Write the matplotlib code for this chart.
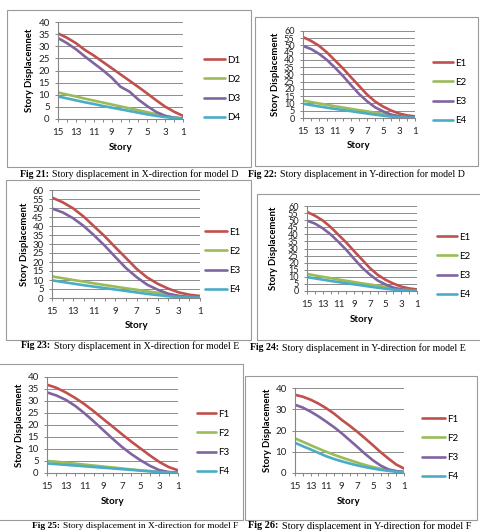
import matplotlib
matplotlib.use("Agg")
import matplotlib.pyplot as plt
from matplotlib.patches import Rectangle
from matplotlib.ticker import MultipleLocator

# story numbers (x axis runs 15 -> 1)
stories = list(range(15, 0, -1))

# Fig 21 - model D, X-direction
D1 = [35.3, 33.5, 31.3, 28.5, 26.2, 23.6, 21.0, 18.4, 15.8, 13.2, 10.5, 7.7, 5.1, 3.0, 1.3]
D2 = [10.9, 10.1, 9.3, 8.4, 7.6, 6.8, 6.0, 5.2, 4.4, 3.6, 2.8, 2.0, 1.2, 0.6, 0.3]
D3 = [33.4, 31.3, 28.8, 25.8, 23.0, 20.2, 17.1, 13.3, 11.3, 8.0, 5.3, 2.9, 1.3, 0.5, 0.2]
D4 = [9.3, 8.5, 7.7, 6.9, 6.2, 5.4, 4.7, 4.0, 3.3, 2.6, 1.9, 1.3, 0.8, 0.4, 0.2]

# Fig 22 / 23 / 24 - model E curves (same values in all three)
E1 = [55.8, 53.2, 49.8, 45.2, 39.7, 34.2, 28.1, 22.2, 16.2, 11.4, 7.9, 5.2, 3.1, 1.8, 1.1]
E2 = [12.0, 11.0, 10.0, 9.1, 8.1, 7.2, 6.3, 5.4, 4.6, 3.7, 2.9, 2.0, 1.2, 0.6, 0.3]
E3 = [49.7, 47.6, 44.3, 40.0, 34.7, 29.0, 22.7, 16.6, 11.6, 7.4, 4.6, 2.4, 1.1, 0.5, 0.3]
E4 = [9.8, 8.9, 8.0, 7.1, 6.3, 5.5, 4.7, 3.9, 3.1, 2.3, 1.6, 1.0, 0.5, 0.3, 0.2]

# Fig 25 - model F, X-direction
FX1 = [36.8, 35.5, 33.6, 31.3, 28.7, 25.7, 22.5, 19.4, 16.2, 13.1, 10.2, 7.3, 4.6, 2.5, 1.1]
FX2 = [5.0, 4.7, 4.3, 3.9, 3.5, 3.1, 2.7, 2.3, 1.9, 1.5, 1.1, 0.8, 0.5, 0.3, 0.2]
FX3 = [33.6, 32.3, 30.5, 28.0, 24.9, 21.5, 17.9, 14.3, 10.9, 7.9, 5.3, 3.0, 1.2, 0.4, 0.2]
FX4 = [4.0, 3.7, 3.4, 3.1, 2.8, 2.5, 2.2, 1.9, 1.6, 1.3, 1.0, 0.7, 0.4, 0.2, 0.1]

# Fig 26 - model F, Y-direction
FY1 = [36.8, 35.9, 34.5, 32.7, 30.5, 28.0, 25.0, 22.3, 19.4, 16.3, 13.1, 9.8, 6.8, 4.0, 2.1]
FY2 = [16.3, 14.7, 13.1, 11.5, 10.0, 8.6, 7.3, 6.1, 4.9, 3.8, 2.8, 2.0, 1.3, 0.8, 0.5]
FY3 = [32.1, 30.8, 28.9, 26.7, 24.2, 21.6, 18.7, 15.5, 12.3, 9.0, 6.0, 3.5, 1.7, 0.9, 0.5]
FY4 = [14.2, 12.6, 11.1, 9.5, 7.9, 6.6, 5.5, 4.5, 3.6, 2.8, 2.1, 1.5, 1.0, 0.6, 0.3]

colors = ["#c0504d", "#9bbb59", "#8064a2", "#4bacc6"]

W, H = 480, 532
fig = plt.figure(figsize=(W / 100, H / 100), dpi=100)
fig.patch.set_facecolor("white")

tick_font = ["Lato", "DejaVu Sans"]
cap_font = ["Liberation Serif", "DejaVu Serif"]


def px_rect(l, t, r, b):
    return [l / W, 1 - b / H, (r - l) / W, (b - t) / H]


def fx(x):
    return x / W


def fy(y):
    return 1 - y / H


panels = [
    dict(ax=(58, 22, 183, 119), series=[D1, D2, D3, D4], names=["D1", "D2", "D3", "D4"],
         ymax=40, ystep=5, ytick_size=7, ylabel="Story Displacemnet", ylab_x=30, xlab=(121, 147),
         leg=(204, 89, 2.2), frame=(7, 10, 251, 167),
         cap=(20, 174, 7.1, "Fig 21:", "Story displacement in X-direction for model D")),
    dict(ax=(303, 31, 415, 118), series=[E1, E2, E3, E4], names=["E1", "E2", "E3", "E4"],
         ymax=60, ystep=5, ytick_size=6.6, ylabel="Story Displacement", ylab_x=275, xlab=(359, 146),
         leg=(433, 92, 2.1), frame=(255, 17, 478, 166),
         cap=(248, 174, 7.1, "Fig 22:", "Story displacement in Y-direction for model D")),
    dict(ax=(52, 190, 200, 298), series=[E1, E2, E3, E4], names=["E1", "E2", "E3", "E4"],
         ymax=60, ystep=5, ytick_size=7, ylabel="Story Displacement", ylab_x=25, xlab=(137, 326),
         leg=(205, 261, 2.3), frame=(6, 180, 251, 340),
         cap=(21, 346, 7.1, "Fig 23:", "Story displacement in X-direction for model E")),
    dict(ax=(307, 206, 417, 291), series=[E1, E2, E3, E4], names=["E1", "E2", "E3", "E4"],
         ymax=60, ystep=5, ytick_size=6.6, ylabel="Story Displacement", ylab_x=273, xlab=(362, 320),
         leg=(437, 266, 2.1), frame=(257, 194, 484, 340),
         cap=(250, 348, 7.1, "Fig 24:", "Story displacement in Y-direction for model E")),
    dict(ax=(47, 377, 178, 473), series=[FX1, FX2, FX3, FX4], names=["F1", "F2", "F3", "F4"],
         ymax=40, ystep=5, ytick_size=7, ylabel="Story Displacement", ylab_x=20, xlab=(113, 502),
         leg=(197, 443, 2.0), frame=(-3, 364, 243, 520),
         cap=(32, 526, 6.75, "Fig 25:", "Story displacement in X-direction for model F")),
    dict(ax=(295, 388, 404, 473), series=[FY1, FY2, FY3, FY4], names=["F1", "F2", "F3", "F4"],
         ymax=40, ystep=10, ytick_size=7, ylabel="Story Displacement", ylab_x=267, xlab=(349, 501),
         leg=(422, 448, 2.4), frame=(245, 376, 477, 520),
         cap=(248, 526, 7.35, "Fig 26:", "Story displacement in Y-direction for model F")),
]

for p in panels:
    l, t, r, b = p["frame"]
    fig.add_artist(Rectangle((fx(l), fy(b)), (r - l) / W, (b - t) / H,
                             transform=fig.transFigure, fill=False,
                             edgecolor="#9a9a9a", lw=0.8))

    ax = fig.add_axes(px_rect(*p["ax"]))
    ax.patch.set_alpha(0)
    lines = []
    for vals, c, n in zip(p["series"], colors, p["names"]):
        ln, = ax.plot(stories, vals, color=c, lw=1.9, label=n, solid_capstyle="round")
        lines.append(ln)

    ax.set_xlim(15, 1)
    ax.set_ylim(0, p["ymax"])
    ax.set_xticks(list(range(15, 0, -2)))
    ax.xaxis.set_minor_locator(MultipleLocator(1))
    ax.yaxis.set_major_locator(MultipleLocator(p["ystep"]))
    ax.yaxis.grid(True, color="#8c8c8c", lw=0.7)
    ax.set_axisbelow(True)
    for s in ["top", "right"]:
        ax.spines[s].set_visible(False)
    for s in ["left", "bottom"]:
        ax.spines[s].set_color("#868686")
        ax.spines[s].set_linewidth(0.8)
    ax.tick_params(which="both", direction="out", length=2.5, width=0.7,
                   color="#868686", labelsize=7)
    ax.tick_params(axis="x", pad=4)
    ax.tick_params(axis="y", pad=3.5, labelsize=p["ytick_size"])
    for lab in ax.get_xticklabels() + ax.get_yticklabels():
        lab.set_family(tick_font)
        lab.set_color("#222222")

    ax.set_ylabel(p["ylabel"], fontsize=6.8, fontweight="bold", family=tick_font)
    ax.yaxis.set_label_coords(fx(p["ylab_x"]), 0.5 * (fy(p["ax"][1]) + fy(p["ax"][3])),
                              transform=fig.transFigure)
    ax.yaxis.label.set_va("center")
    ax.set_xlabel("Story", fontsize=7, fontweight="bold", family=tick_font)
    ax.xaxis.set_label_coords(fx(p["xlab"][0]), fy(p["xlab"][1]), transform=fig.transFigure)
    ax.xaxis.label.set_va("center")

    lx, ly, hl = p["leg"]
    ax.legend(lines, p["names"], loc="center left", bbox_to_anchor=(fx(lx), fy(ly)),
              bbox_transform=fig.transFigure, frameon=False,
              prop={"family": tick_font, "size": 7},
              handlelength=hl, handletextpad=0.2, labelspacing=1.05,
              borderpad=0, borderaxespad=0)

    cx, cy, cs, bold_part, rest = p["cap"]
    t_bold = fig.text(fx(cx), fy(cy), bold_part, fontsize=cs, fontweight="bold",
                      family=cap_font, va="center", ha="left")
    ax.annotate(rest, xy=(1, 0.5), xycoords=t_bold, xytext=(2.5, 0),
                textcoords="offset points", va="center", ha="left",
                fontsize=cs, family=cap_font, annotation_clip=False)

fig.savefig("out.png", dpi=100)
